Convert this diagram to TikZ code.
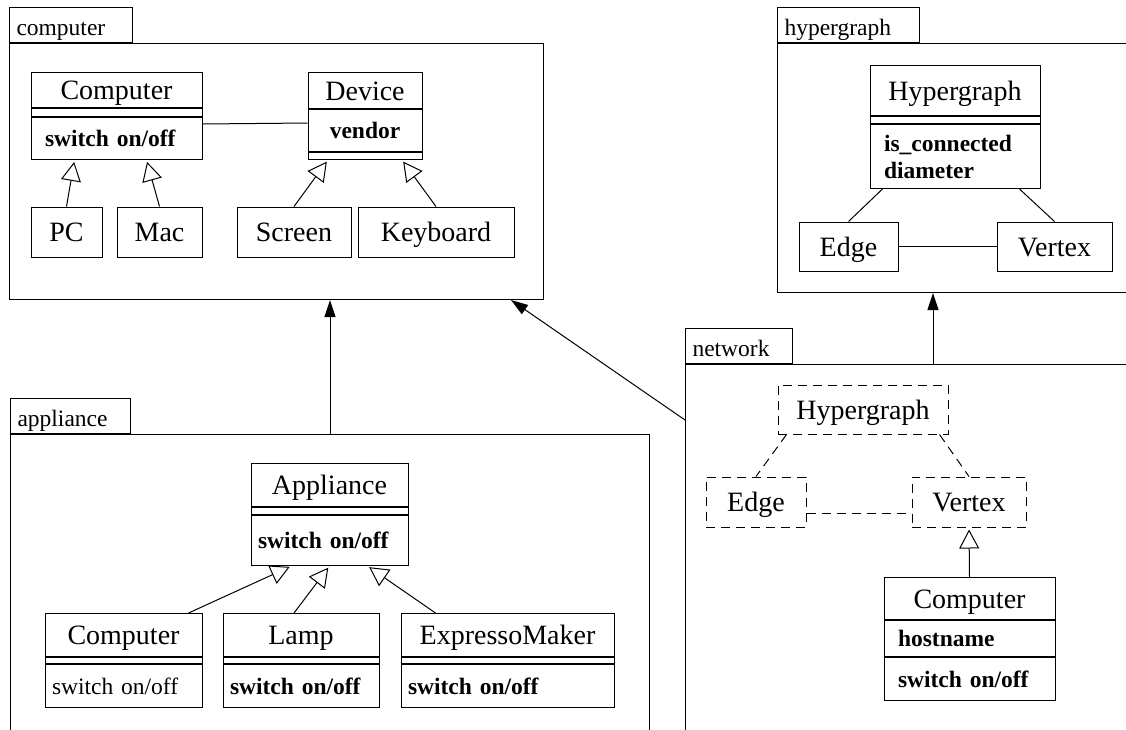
\documentclass[tikz,border=0pt]{standalone}
\usepackage{fontspec}
\setmainfont{Liberation Serif}
\usetikzlibrary{arrows.meta}

\newcommand{\classfont}{\fontsize{28}{32}\selectfont}
\newcommand{\memberfont}{\fontsize{23.5}{27}\selectfont}
\newcommand{\pkgfont}{\fontsize{23.5}{27}\selectfont}

\tikzset{
  pkgframe/.style={draw, inner sep=0pt, anchor=north west},
  pkgtab/.style={draw, anchor=south west, inner xsep=7pt, inner ysep=0pt,
    text height=28pt, text depth=7pt, align=left, font=\pkgfont},
  classname/.style={draw, inner sep=0pt, text height=25pt, text depth=6pt, font=\classfont},
  members/.style={draw, anchor=north, inner xsep=14pt, inner ysep=0pt, align=left,
    font=\memberfont\bfseries},
  slot/.style={draw, anchor=north, inner sep=0pt},
  ghost/.style={dash pattern=on 9pt off 6pt},
  isa/.style={-{Triangle[open, length=19pt, width=20pt]}, shorten >=2pt},
  uses/.style={-{Triangle[length=17pt, width=11pt]}}
}

\begin{document}
\begin{tikzpicture}[x=1pt, y=-1pt, line width=1pt]
  \useasboundingbox (0,0) rectangle (1126,729);
  \clip (0,0) rectangle (1126,729);

  % package computer
  \node[pkgframe, minimum width=534pt, minimum height=256pt] (computer) at (9,43) {};
  \node[pkgtab, text width=109pt] (computertab) at (computer.north west) {computer};

  \node[classname, minimum width=171pt, minimum height=35pt, anchor=north] (cpu) at (116.5,72) {Computer};
  \node[slot, minimum width=171pt, minimum height=8pt] (cpuslot) at (cpu.south) {};
  \node[members, text width=143pt, minimum height=42pt] (cpuops) at (cpuslot.south) {switch on/off};

  \node[classname, minimum width=114pt, minimum height=36pt, anchor=north] (device) at (365,72) {Device};
  \node[members, align=center, inner xsep=0pt, text width=114pt, minimum height=42pt] (devattr) at (device.south) {vendor};
  \node[slot, minimum width=114pt, minimum height=7pt] (devslot) at (devattr.south) {};

  \node[classname, minimum width=71pt, minimum height=50pt] (pc) at (66.5,232) {PC};
  \node[classname, minimum width=85pt, minimum height=50pt] (mac) at (159.5,232) {Mac};
  \node[classname, minimum width=114pt, minimum height=50pt] (screen) at (294,232) {Screen};
  \node[classname, minimum width=156pt, minimum height=50pt] (keyboard) at (436,232) {Keyboard};

  \draw ([yshift=-7pt]cpuops.north east) -- ([yshift=-14pt]devattr.north west);
  \draw[isa] (pc.north) -- ([xshift=-42pt]cpuops.south);
  \draw[isa] (mac.north) -- ([xshift=30pt]cpuops.south);
  \draw[isa] (screen.north) -- ([xshift=-37pt]devslot.south);
  \draw[isa] (keyboard.north) -- ([xshift=37pt]devslot.south);

  % package hypergraph
  \node[pkgframe, minimum width=400pt, minimum height=249pt] (hypergraph) at (777,43) {};
  \node[pkgtab, text width=128pt] (hypergraphtab) at (hypergraph.north west) {hypergraph};

  \node[classname, minimum width=170pt, minimum height=50pt, anchor=north] (hg) at (955,65) {Hypergraph};
  \node[slot, minimum width=170pt, minimum height=7pt] (hgslot) at (hg.south) {};
  \node[members, text width=142pt, minimum height=64pt] (hgops) at (hgslot.south) {is\_connected\\diameter};

  \node[classname, minimum width=99pt, minimum height=49pt] (edge) at (848.5,246.5) {Edge};
  \node[classname, minimum width=115pt, minimum height=49pt] (vertex) at (1054.5,246.5) {Vertex};

  \draw ([xshift=13pt]hgops.south west) -- (edge.north);
  \draw ([xshift=-21pt]hgops.south east) -- (vertex.north);
  \draw (edge) -- (vertex);

  % package appliance
  \node[pkgframe, minimum width=639pt, minimum height=320pt] (appliance) at (10,434) {};
  \node[pkgtab, text width=106pt] (appliancetab) at (appliance.north west) {appliance};

  \node[classname, minimum width=157pt, minimum height=43pt, anchor=north] (app) at (329.5,463) {Appliance};
  \node[slot, minimum width=157pt, minimum height=7pt] (appslot) at (app.south) {};
  \node[members, inner xsep=7pt, text width=143pt, minimum height=50pt] (appops) at (appslot.south) {switch on/off};

  \node[classname, minimum width=157pt, minimum height=43pt, anchor=north] (appcomputer) at (123.5,613) {Computer};
  \node[slot, minimum width=157pt, minimum height=6pt] (appcomputerslot) at (appcomputer.south) {};
  \node[members, inner xsep=7pt, text width=143pt, minimum height=43pt, font=\memberfont] (appcomputerops) at (appcomputerslot.south) {switch on/off};

  \node[classname, minimum width=156pt, minimum height=43pt, anchor=north] (lamp) at (301,613) {Lamp};
  \node[slot, minimum width=156pt, minimum height=6pt] (lampslot) at (lamp.south) {};
  \node[members, inner xsep=7pt, text width=142pt, minimum height=43pt] (lampops) at (lampslot.south) {switch on/off};

  \node[classname, minimum width=213pt, minimum height=43pt, anchor=north] (expresso) at (507.5,613) {ExpressoMaker};
  \node[slot, minimum width=213pt, minimum height=6pt] (expressoslot) at (expresso.south) {};
  \node[members, inner xsep=7pt, text width=199pt, minimum height=43pt] (expressoops) at (expressoslot.south) {switch on/off};

  \draw[isa] ([xshift=-14pt]appcomputer.north east) -- ([xshift=-38pt]appops.south);
  \draw[isa] ([xshift=-7pt]lamp.north) -- (appops.south);
  \draw[isa] ([xshift=35pt]expresso.north west) -- ([xshift=38pt]appops.south);

  % package network
  \node[pkgframe, minimum width=460pt, minimum height=380pt] (network) at (685,364) {};
  \node[pkgtab, text width=93pt] (networktab) at (network.north west) {network};

  \node[classname, ghost, minimum width=170pt, minimum height=49pt] (nethg) at (863,409.5) {Hypergraph};
  \node[classname, ghost, minimum width=100pt, minimum height=50pt] (netedge) at (756,502) {Edge};
  \node[classname, ghost, minimum width=114pt, minimum height=50pt] (netvertex) at (969,502) {Vertex};

  \draw[ghost] ([xshift=9pt]nethg.south west) -- (netedge.north);
  \draw[ghost] ([xshift=-9pt]nethg.south east) -- (netvertex.north);
  \draw[ghost] ([yshift=-11pt]netedge.east) -- ([yshift=-11pt]netvertex.west);

  \node[classname, minimum width=171pt, minimum height=42pt, anchor=north] (host) at (969.5,577) {Computer};
  \node[members, text width=143pt, minimum height=36pt] (hostattr) at (host.south) {hostname};
  \node[members, text width=143pt, minimum height=43pt] (hostops) at (hostattr.south) {switch on/off};

  \draw[isa] (host.north) -- (netvertex.south);

  % dependencies between packages
  \draw[uses] (appliance.north) -- (appliance.north |- computer.south);
  \draw[uses] ([yshift=-56pt]network.north west) -- ([xshift=-33pt]computer.south east);
  \draw[uses] ([xshift=248pt]network.north west) -- ([xshift=248pt]network.north west |- hypergraph.south);
\end{tikzpicture}
\end{document}
